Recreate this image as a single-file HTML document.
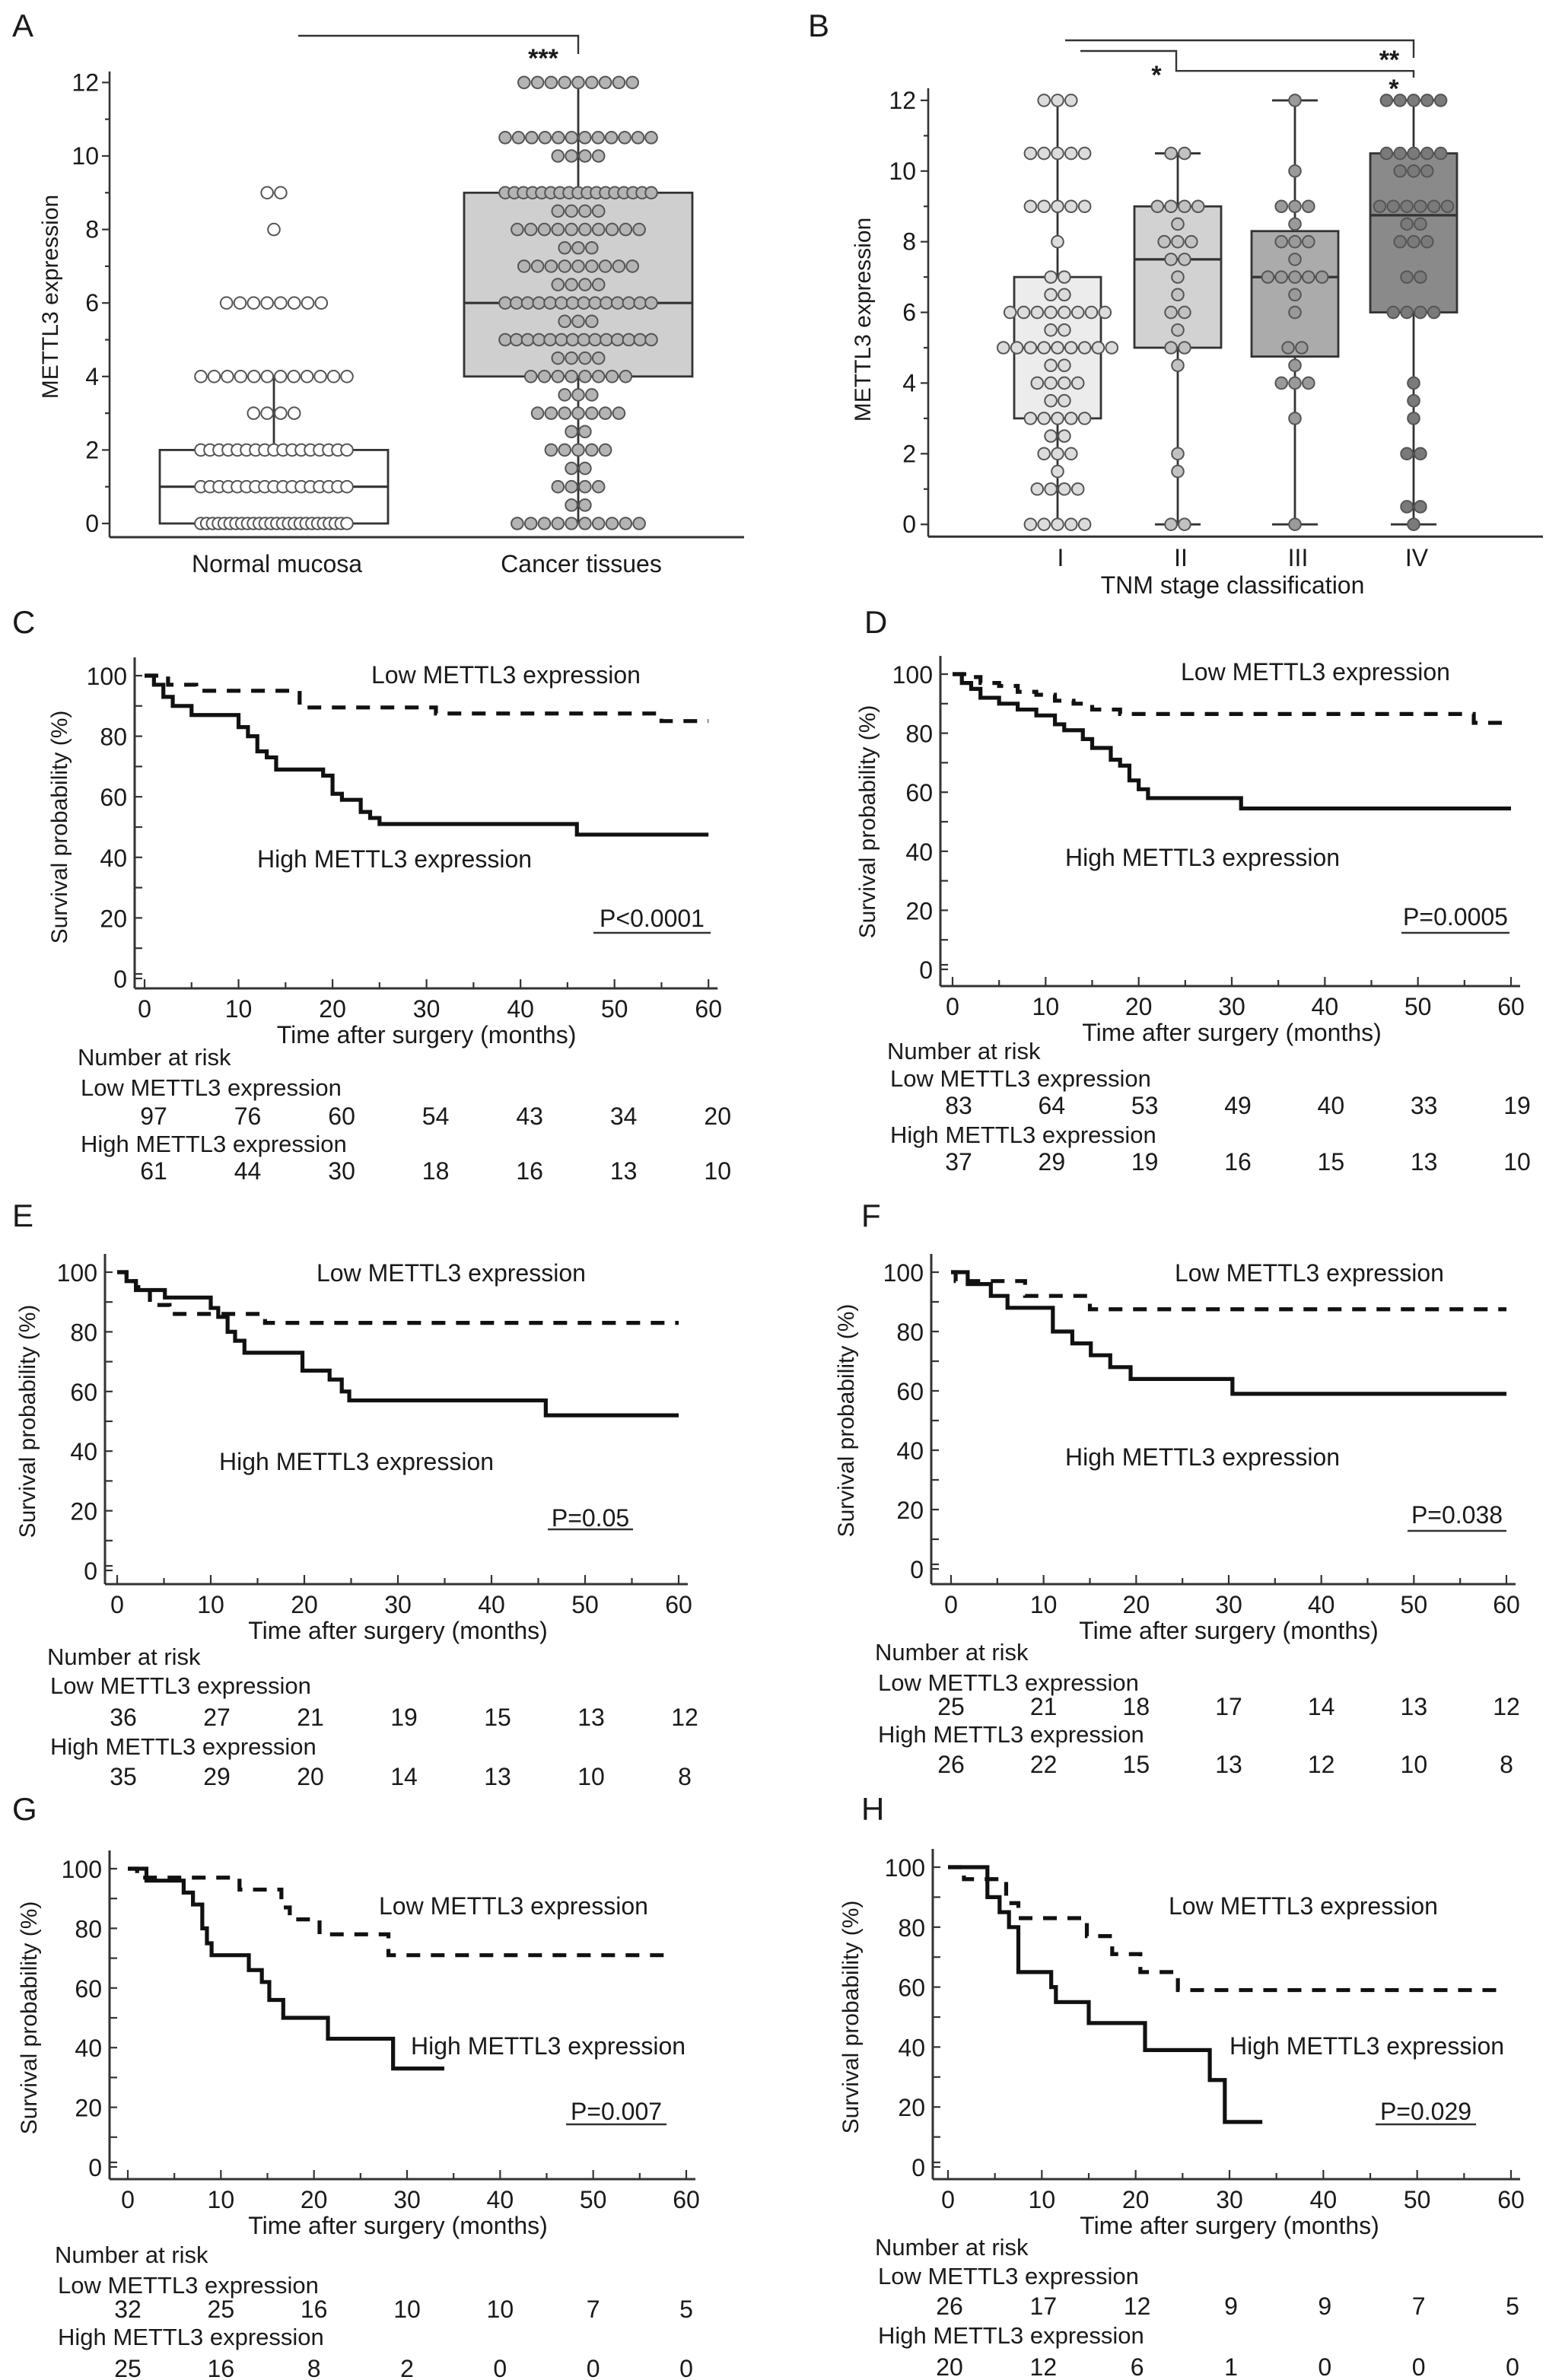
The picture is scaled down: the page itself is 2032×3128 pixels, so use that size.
<!DOCTYPE html>
<html><head><meta charset="utf-8"><title>METTL3 expression figure</title>
<style>
html,body{margin:0;padding:0;background:#fff;}
svg{display:block;font-family:"Liberation Sans",Arial,sans-serif;}
text{fill:#1a1a1a;}
</style></head>
<body>
<svg id="fig" xmlns="http://www.w3.org/2000/svg" width="2032" height="3128" viewBox="0 0 1016 1564"></svg>
<script>
// ===== Panel A data =====
const aGroups = ["Normal mucosa", "Cancer tissues"];
const aNormLevels = [0,1,2,3,4,6,8,9];
const aNormCounts = [26,17,17,4,12,8,1,2];
const aCancLevels = [0,0.5,1,1.5,2,2.5,3,3.5,4,4.5,5,5.5,6,6.5,7,7.5,8,8.5,9,10,10.5,12];
const aCancCounts = [10,2,4,2,5,2,7,3,8,4,14,3,14,4,9,3,10,4,17,4,12,9];
const aBoxQ1 = [0,4], aBoxMed = [1,6], aBoxQ3 = [2,9], aWhiskLo = [0,0], aWhiskHi = [4,12];
const yTicksBox = [0,2,4,6,8,10,12];
// ===== Panel B data =====
const bGroups = ["I","II","III","IV"];
const bQ1 = [3,5,4.75,6], bMed = [5,7.5,7,8.75], bQ3 = [7,9,8.3,10.5], bLo = [0,0,0,0], bHi = [12,10.5,12,12];
const bLevels1 = [0,1,1.5,2,2.5,3,3.5,4,4.5,5,5.5,6,6.5,7,8,9,10.5,12];
const bCounts1 = [5,4,1,3,2,5,2,4,2,9,2,8,2,2,1,5,5,3];
const bLevels2 = [0,1.5,2,4.5,5,5.5,6,6.5,7,7.5,8,8.5,9,10.5];
const bCounts2 = [2,1,1,1,2,1,2,1,1,2,3,1,4,2];
const bLevels3 = [0,3,4,4.5,5,6,6.5,7,7.5,8,8.5,9,10,12];
const bCounts3 = [1,1,3,1,2,1,1,5,1,3,1,3,1,1];
const bLevels4 = [0,0.5,2,3,3.5,4,6,7,8,8.5,9,10,10.5,12];
const bCounts4 = [1,2,2,1,1,1,4,2,3,2,6,3,5,5];
// ===== KM data (months, survival %) =====
const kmXTicks = [0,10,20,30,40,50,60];
const kmYTicks = [0,20,40,60,80,100];
const cLowT = [0,2.5,5.5,16.5,31,55], cLowS = [100,97,95,89.5,87.5,85], cLowEnd = 60;
const cHighT = [0,1,2,3,5,10,11,12,13,14,19,20,21,23,24,25,46], cHighS = [100,97,93,90,87,83,80,75,73,69,67,61,59,55,53,51,47.5], cHighEnd = 60;
const cRiskLow = [97,76,60,54,43,34,20], cRiskHigh = [61,44,30,18,16,13,10];
const dLowT = [0,2,3,5,7,9,11,13,15,18,56], dLowS = [100,99,97,96,94,93,91,90,88,86.5,83.5], dLowEnd = 60;
const dHighT = [0,1,2,3,5,7,9,11,12,14,15,17,18,19,20,21,31], dHighS = [100,97,95,92,90,88,86,83,81,78,75,71,69,64,61,58,54.5], dHighEnd = 60;
const dRiskLow = [83,64,53,49,40,33,19], dRiskHigh = [37,29,19,16,15,13,10];
const eLowT = [0,1,2,3.5,5.6,15.8], eLowS = [100,97,95,89,86,83], eLowEnd = 60;
const eHighT = [0,1,2,5.1,10,10.8,11.8,12.6,13.6,19.8,22.7,24,24.8,45.8], eHighS = [100,97,94,91.5,88,85,80,77,73,67,64,60,57,52], eHighEnd = 60;
const eRiskLow = [36,27,21,19,15,13,12], eRiskHigh = [35,29,20,14,13,10,8];
const fLowT = [0,0.5,8,15], fLowS = [100,97,92,87.5], fLowEnd = 60;
const fHighT = [0,1.8,4.3,6.1,11,13.1,15.1,17.2,19.4,30.4], fHighS = [100,96,92,88,80,76,72,68,64,59], fHighEnd = 60;
const fRiskLow = [25,21,18,17,14,13,12], fRiskHigh = [26,22,15,13,12,10,8];
const gLowT = [0,1,12,16.5,17.4,20.6,28], gLowS = [100,97,93,87,83,78,71], gLowEnd = 58.5;
const gHighT = [0,2,6,7,8,8.5,9,13,14.4,15.2,16.7,21.5,28.5], gHighS = [100,96,92,88,80,75,71,66,62,56,50,43,33], gHighEnd = 34;
const gRiskLow = [32,25,16,10,10,7,5], gRiskHigh = [25,16,8,2,0,0,0];
const hLowT = [0,1.7,6.2,7.5,14.8,17.5,20.5,24.5], hLowS = [100,96,88,83,77,71,65,59], hLowEnd = 59.4;
const hHighT = [0,4.2,5.5,6.5,7.5,11,11.5,15,21,27.9,29.5], hHighS = [100,90,85,80,65,60,55,48,39,29,15], hHighEnd = 33.5;
const hRiskLow = [26,17,12,9,9,7,5], hRiskHigh = [20,12,6,1,0,0,0];
const kmP = ["P<0.0001","P=0.0005","P=0.05","P=0.038","P=0.007","P=0.029"];

const NS = "http://www.w3.org/2000/svg";
const svg = document.getElementById('fig');
function mk(tag, attrs, parent, txt){
  const e = document.createElementNS(NS, tag);
  for (const k in attrs) e.setAttribute(k, attrs[k]);
  if (txt !== undefined) e.textContent = txt;
  (parent || svg).appendChild(e);
  return e;
}
function grp(name, parent){
  const g = mk('g', {}, parent);
  
  
  return g;
}
function label(parent, name, x, y, s, size, anchor, extra){
  const t = mk('text', Object.assign({x:x, y:y, 'font-size':size, 'text-anchor':anchor||'start'}, extra||{}), parent, s);
  
  
  return t;
}
const LC = '#333';

// Panel letters
[["A",8,24],["B",531,24],["C",8,416],["D",568,416],["E",8,806],["F",566,806],["G",8,1196],["H",566,1196]].forEach(p=>{
  label(svg, 'panel-label-'+p[0].toLowerCase(), p[1], p[2], p[0], 21, 'start');
});

// ---------- Box plot helpers ----------
function boxAxis(g, ax, yTop, yBot, yS, labelX, titleX, titleY){
  mk('line',{x1:ax,y1:yTop,x2:ax,y2:yBot,stroke:LC,'stroke-width':1.3},g);
  for (let v=0; v<=12; v++){
    const y = yS(v);
    mk('line',{x1:ax-(v%2?3:5),y1:y,x2:ax,y2:y,stroke:LC,'stroke-width':1.1},g);
  }
  yTicksBox.forEach(v=>label(g,'y-tick-'+v, labelX, yS(v)+5.5, String(v), 16, 'end'));
  label(g,'y-axis-title', titleX, titleY, 'METTL3 expression', 15, 'middle', {transform:`rotate(-90 ${titleX} ${titleY})`});
}
function dots(g, cx, levels, counts, yS, fill, maxW, name){
  levels.forEach((lv,i)=>{
    const n = counts[i];
    const sp = n>1 ? Math.min(8.9, maxW/(n-1)) : 0;
    for (let k=0;k<n;k++){
      const c = mk('circle',{cx:cx+(k-(n-1)/2)*sp, cy:yS(lv), r:3.9, fill:fill, stroke:'#555','stroke-width':1},g);
      
      
    }
  });
}
function boxShape(g, cx, hw, q1, med, q3, lo, hi, yS, fill, caps, name){
  mk('line',{x1:cx,y1:yS(lo),x2:cx,y2:yS(q1),stroke:LC,'stroke-width':1.4},g);
  mk('line',{x1:cx,y1:yS(q3),x2:cx,y2:yS(hi),stroke:LC,'stroke-width':1.4},g);
  const r = mk('rect',{x:cx-hw,y:yS(q3),width:2*hw,height:yS(q1)-yS(q3),fill:fill,stroke:LC,'stroke-width':1.4},g);
  
  
  mk('line',{x1:cx-hw,y1:yS(med),x2:cx+hw,y2:yS(med),stroke:LC,'stroke-width':1.6},g);
  if (caps){
    [lo,hi].forEach(v=>mk('line',{x1:cx-15,y1:yS(v),x2:cx+15,y2:yS(v),stroke:LC,'stroke-width':1.4},g));
  }
}

// ---------- Panel A ----------
(function(){
  const g = grp('panel-a-boxplot');
  const yS = v => 344 - v*24.15;
  const cx = [180, 380];
  boxAxis(g, 72, 47, 353, yS, 65, 38, 195);
  mk('line',{x1:72,y1:353,x2:489,y2:353,stroke:LC,'stroke-width':1.5},g);
  boxShape(g, cx[0], 75, aBoxQ1[0], aBoxMed[0], aBoxQ3[0], aWhiskLo[0], aWhiskHi[0], yS, '#ffffff', false, 'normal-mucosa');
  boxShape(g, cx[1], 75, aBoxQ1[1], aBoxMed[1], aBoxQ3[1], aWhiskLo[1], aWhiskHi[1], yS, '#cfcfcf', false, 'cancer-tissues');
  dots(g, cx[0], aNormLevels, aNormCounts, yS, '#ffffff', 96, 'normal-mucosa');
  dots(g, cx[1], aCancLevels, aCancCounts, yS, '#b4b4b4', 96, 'cancer-tissues');
  aGroups.forEach((s,i)=>label(g,'x-tick-'+(i?'cancer':'normal'), cx[i]+2, 376, s, 16, 'middle'));
  mk('polyline',{points:'196,23.5 380,23.5 380,35.5',fill:'none',stroke:LC,'stroke-width':1.2},g);
  label(g,'significance-stars', 357, 44, '***', 17, 'middle', {'font-weight':'bold'});
})();

// ---------- Panel B ----------
(function(){
  const g = grp('panel-b-boxplot');
  const yS = v => 344.6 - v*23.22;
  const cx = [695, 774, 851, 929];
  const boxFill = ['#ececec','#d2d2d2','#ababab','#8a8a8a'];
  const dotFill = ['#dcdcdc','#c2c2c2','#9a9a9a','#7a7a7a'];
  const L = [bLevels1,bLevels2,bLevels3,bLevels4], C = [bCounts1,bCounts2,bCounts3,bCounts4];
  boxAxis(g, 610, 58, 352.6, yS, 602, 572, 210);
  mk('line',{x1:610,y1:352.6,x2:1014,y2:352.6,stroke:LC,'stroke-width':1.5},g);
  for (let i=0;i<4;i++){
    boxShape(g, cx[i], 28.5, bQ1[i], bMed[i], bQ3[i], bLo[i], bHi[i], yS, boxFill[i], i>0, 'stage-'+bGroups[i].toLowerCase());
    dots(g, cx[i], L[i], C[i], yS, dotFill[i], 80, 'stage-'+bGroups[i].toLowerCase());
    label(g,'x-tick-'+bGroups[i].toLowerCase(), cx[i]+2, 372, bGroups[i], 16, 'middle');
  }
  label(g,'x-axis-title', 810, 390, 'TNM stage classification', 16, 'middle');
  mk('polyline',{points:'700,26.5 929,26.5 929,38',fill:'none',stroke:LC,'stroke-width':1.2},g);
  mk('polyline',{points:'710,33.5 773,33.5 773,46.6 929,46.6 929,51',fill:'none',stroke:LC,'stroke-width':1.2},g);
  label(g,'sig-stars-i-ii', 760, 55, '*', 17, 'middle', {'font-weight':'bold'});
  label(g,'sig-stars-i-iv', 913, 45, '**', 17, 'middle', {'font-weight':'bold'});
  label(g,'sig-stars-ii-iv', 916, 64, '*', 17, 'middle', {'font-weight':'bold'});
})();

// ---------- KM panels ----------
function stepPath(T, S, end, xS, yS){
  let d = `M${xS(T[0])},${yS(S[0])}`;
  for (let i=1;i<T.length;i++){
    d += ` H${xS(T[i])} V${yS(S[i])}`;
  }
  d += ` H${xS(end)}`;
  return d;
}
function km(L, lowT, lowS, lowEnd, highT, highS, highEnd, riskLow, riskHigh, pTxt){
  const g = grp('km-panel-'+L.id);
  const xS = t => L.x0 + t*(L.x60-L.x0)/60;
  const yS = s => L.y0 - s*(L.y0-L.y100)/100;
  // axes
  mk('line',{x1:L.ax,y1:L.y100-12,x2:L.ax,y2:L.bot,stroke:LC,'stroke-width':1.5},g);
  mk('line',{x1:L.ax,y1:L.bot,x2:L.x60+6,y2:L.bot,stroke:LC,'stroke-width':1.5},g);
  for (let s=0;s<=100;s+=10){
    mk('line',{x1:L.ax,y1:yS(s),x2:L.ax+5,y2:yS(s),stroke:LC,'stroke-width':1.1},g);
  }
  for (let t=0;t<=60;t+=5){
    mk('line',{x1:xS(t),y1:L.bot,x2:xS(t),y2:L.bot-(t%10?4:6),stroke:LC,'stroke-width':1.1},g);
  }
  mk('line',{x1:L.ax,y1:L.y0-3,x2:L.ax+5,y2:L.y0-3,stroke:LC,'stroke-width':1.1},g);
  kmYTicks.forEach(v=>label(g,'y-tick-'+v, L.ax-5, yS(v)+6, String(v), 16, 'end'));
  kmXTicks.forEach(v=>label(g,'x-tick-'+v, xS(v), L.bot+19, String(v), 16, 'middle'));
  label(g,'x-axis-title', (xS(0)+xS(60))/2+(L.titleDx||0), L.bot+36, 'Time after surgery (months)', 16, 'middle');
  const ycx = L.ylabX, ycy = (L.y0+L.y100)/2;
  label(g,'y-axis-title', ycx, ycy, 'Survival probability (%)', 15, 'middle', {transform:`rotate(-90 ${ycx} ${ycy})`});
  // curves
  const lo = mk('path',{d:stepPath(lowT,lowS,lowEnd,xS,yS),fill:'none',stroke:'#111','stroke-width':2.6,'stroke-dasharray':'9,7'},g);
  
  
  const hi = mk('path',{d:stepPath(highT,highS,highEnd,xS,yS),fill:'none',stroke:'#111','stroke-width':2.6},g);
  
  
  label(g,'low-curve-label', L.lowLab[0], L.lowLab[1]+6, 'Low METTL3 expression', 16, 'start');
  label(g,'high-curve-label', L.highLab[0], L.highLab[1]+6, 'High METTL3 expression', 16, 'start');
  label(g,'p-value', (L.p[0]+L.p[1])/2, L.p[2]+6, pTxt, 16, 'middle');
  mk('line',{x1:L.p[0],y1:L.p[3],x2:L.p[1],y2:L.p[3],stroke:LC,'stroke-width':1.3},g);
  // risk table
  label(g,'risk-table-title', L.risk[0], L.risk[1]+6, 'Number at risk', 15.5, 'start');
  label(g,'risk-low-label', L.risk[0]+2, L.risk[2]+6, 'Low METTL3 expression', 15.5, 'start');
  label(g,'risk-high-label', L.risk[0]+2, L.risk[4]+6, 'High METTL3 expression', 15.5, 'start');
  kmXTicks.forEach((t,i)=>{
    label(g,'risk-low-'+t, xS(t)+L.rdx, L.risk[3]+6, String(riskLow[i]), 16, 'middle');
    label(g,'risk-high-'+t, xS(t)+L.rdx, L.risk[5]+6, String(riskHigh[i]), 16, 'middle');
  });
}
km({id:'c',ax:88.5,x0:95,x60:465.6,y100:444,y0:643,bot:649.5,ylabX:44,lowLab:[244,443],highLab:[169,564],p:[390,467,603,613],risk:[51,694,714,733,751,769],rdx:6},
   cLowT,cLowS,cLowEnd,cHighT,cHighS,cHighEnd,cRiskLow,cRiskHigh,kmP[0]);
km({id:'d',ax:618,x0:626,x60:993,y100:443,y0:637,bot:648,ylabX:575,lowLab:[776,441],highLab:[700,563],p:[921,992,602,613],risk:[583,690,708,726,745,763],rdx:4},
   dLowT,dLowS,dLowEnd,dHighT,dHighS,dHighEnd,dRiskLow,dRiskHigh,kmP[1]);
km({id:'e',ax:69,x0:77,x60:446,y100:836,y0:1032,bot:1041,ylabX:23,lowLab:[208,836],highLab:[144,960],p:[360,416,997,1005],risk:[31,1088,1107,1128,1147,1167],rdx:4},
   eLowT,eLowS,eLowEnd,eHighT,eHighS,eHighEnd,eRiskLow,eRiskHigh,kmP[2]);
km({id:'f',ax:612,x0:625,x60:990,y100:836,y0:1031,bot:1041,ylabX:561,lowLab:[772,836],highLab:[700,957],p:[925,990,995,1006],risk:[575,1085,1105,1121,1139,1159],rdx:0},
   fLowT,fLowS,fLowEnd,fHighT,fHighS,fHighEnd,fRiskLow,fRiskHigh,kmP[3]);
km({id:'g',ax:72,x0:84,x60:451,y100:1228,y0:1424,bot:1432,ylabX:24,lowLab:[249,1252],highLab:[270,1344],p:[372,438,1387,1396],risk:[36,1481,1501,1517,1535,1556],rdx:0,titleDx:-6},
   gLowT,gLowS,gLowEnd,gHighT,gHighS,gHighEnd,gRiskLow,gRiskHigh,kmP[4]);
km({id:'h',ax:613,x0:623,x60:993,y100:1227,y0:1424,bot:1432,ylabX:564,lowLab:[768,1252],highLab:[808,1344],p:[904,970,1387,1396],risk:[575,1476,1495,1515,1534,1555],rdx:1},
   hLowT,hLowS,hLowEnd,hHighT,hHighS,hHighEnd,hRiskLow,hRiskHigh,kmP[5]);
</script>
</body></html>
